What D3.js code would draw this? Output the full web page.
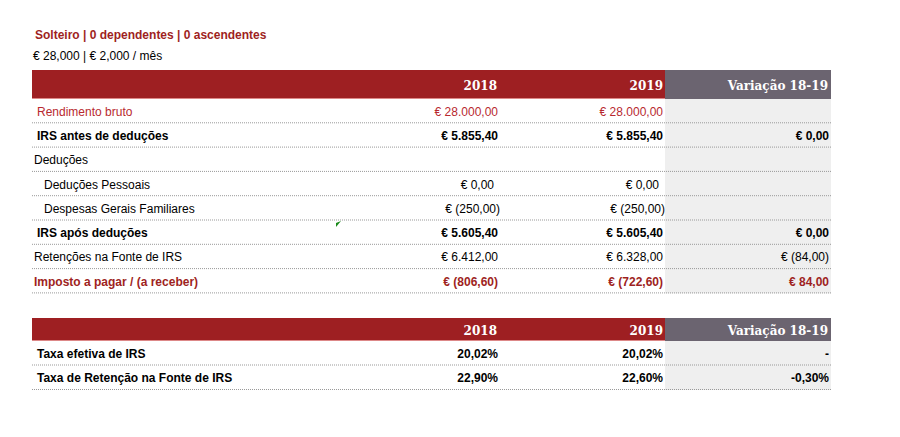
<!DOCTYPE html><html><head><meta charset="utf-8"><script src="https://cdn.jsdelivr.net/npm/d3@7"></script>
<style>body{margin:0;background:#fff}</style></head><body><svg width="900" height="437"></svg>
<script>
const columns=["2018","2019","Variação 18-19"];
const labels1=["Rendimento bruto","IRS antes de deduções","Deduções","Deduções Pessoais","Despesas Gerais Familiares","IRS após deduções","Retenções na Fonte de IRS","Imposto a pagar / (a receber)"];
const v2018=["€ 28.000,00","€ 5.855,40","","€ 0,00","€ (250,00)","€ 5.605,40","€ 6.412,00","€ (806,60)"];
const v2019=["€ 28.000,00","€ 5.855,40","","€ 0,00","€ (250,00)","€ 5.605,40","€ 6.328,00","€ (722,60)"];
const vVar=["","€ 0,00","","","","€ 0,00","€ (84,00)","€ 84,00"];
const style1=["red","bold","normal","indent","indent","bold","normal","redbold"];
const labels2=["Taxa efetiva de IRS","Taxa de Retenção na Fonte de IRS"];
const t2018=["20,02%","22,90%"],t2019=["20,02%","22,60%"],tVar=["-","-0,30%"];
const RED="#9e1f22",GREY="#6b6470";
const svg=d3.select("svg");
const F="'Liberation Sans',Arial,sans-serif";
svg.append("text").attr("x",35).attr("y",39).attr("font-family",F).attr("font-size",12).attr("font-weight","bold").attr("fill",RED).text("Solteiro | 0 dependentes | 0 ascendentes");
svg.append("text").attr("x",33).attr("y",60).attr("font-family",F).attr("font-size",12).attr("fill","#000").text("€ 28,000 | € 2,000 / mês");
const x=d3.scaleOrdinal().domain(["l","a","b","v"]).range([32,500,665,831]);
function table(top,hh,rowH,labels,a,b,v,styles){
  const g=svg.append("g");
  const y=d3.scaleBand().domain(d3.range(labels.length)).range([top+hh,top+hh+rowH*labels.length]);
  g.append("rect").attr("x",x("l")).attr("y",y(0)).attr("width",x("v")-x("b")).attr("height",rowH*labels.length).attr("transform",`translate(${x("b")-x("l")},0)`).attr("fill","#efefef");
  g.append("rect").attr("x",x("l")).attr("y",top).attr("width",x("b")-x("l")).attr("height",hh).attr("fill",RED);
  g.append("rect").attr("x",x("b")).attr("y",top).attr("width",x("v")-x("b")).attr("height",hh).attr("fill",GREY);
  g.append("line").attr("x1",x("l")).attr("x2",x("b")).attr("y1",top+hh-0.5).attr("y2",top+hh-0.5).attr("stroke","#d88").attr("stroke-width",1);
  const hx=[x("a")-3,x("b")-2,x("v")-3];
  columns.forEach((c,i)=>g.append("text").attr("x",hx[i]).attr("y",top+hh/2+5).attr("text-anchor","end").attr("font-family","'DejaVu Serif',Georgia,serif").attr("font-size",12).attr("font-weight","bold").attr("fill","#fff").text(c));
  labels.forEach((l,i)=>{
    const s=styles[i],yy=y(i)+rowH/2+4.5;
    const col=(s=="red"||s=="redbold")?(s=="red"?"#b8292f":RED):"#000";
    const bold=(s=="bold"||s=="redbold")?"bold":"normal";
    g.append("line").attr("x1",x("l")).attr("x2",x("v")).attr("y1",y(i)+rowH-0.5).attr("y2",y(i)+rowH-0.5).attr("stroke","#999").attr("stroke-dasharray","1,1");
    const t=(xx,anchor,txt)=>g.append("text").attr("x",xx).attr("y",yy).attr("text-anchor",anchor).attr("font-family",F).attr("font-size",12).attr("font-weight",bold).attr("fill",col).text(txt);
    t(x("l")+(s=="indent"?12:(s=="red"||s=="bold"?5:2)),"start",l);
    const ins=s=="indent"?(a[i].includes("(")?0:6):2;
    t(x("a")-ins,"end",a[i]);t(x("b")-ins,"end",b[i]);t(x("v")-2,"end",v[i]);
  });
  return y;
}
table(70,29,24.3,labels1,v2018,v2019,vVar,style1);
table(318,23,24.5,labels2,t2018,t2019,tVar,["bold","bold"]);
svg.append("path").attr("d","M336,223 L341,221 L336,227Z").attr("fill","#1a8a1a");
</script></body></html>
